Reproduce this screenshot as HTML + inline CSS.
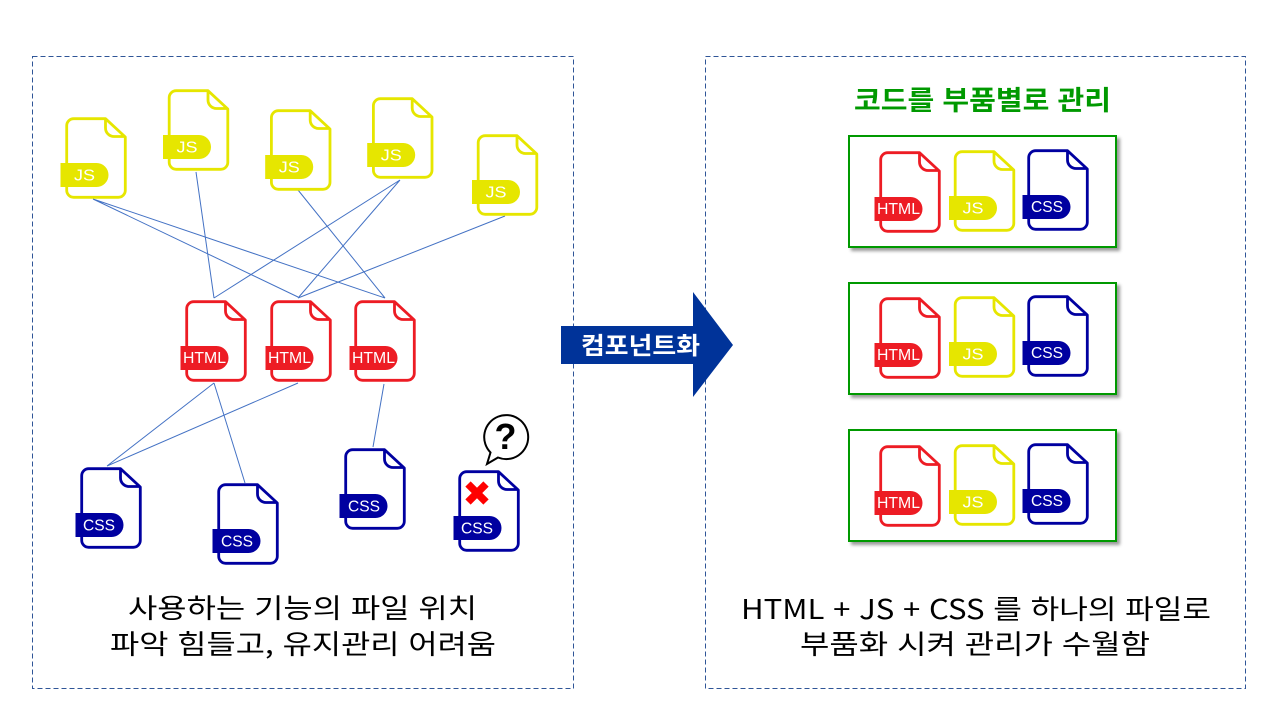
<!DOCTYPE html>
<html lang="ko"><head><meta charset="utf-8"><title>컴포넌트화</title>
<style>
html,body{margin:0;padding:0;background:#fff}
svg{display:block}
text{font-family:"Liberation Sans","Noto Sans CJK KR",sans-serif}
.k{font-family:"Noto Sans CJK KR","Liberation Sans",sans-serif;font-size:27px;fill:#000;text-anchor:middle}
.t{font-size:15.500px;fill:#fff;text-anchor:middle}
</style></head><body>
<svg width="1280" height="720" viewBox="0 0 1280 720" xmlns="http://www.w3.org/2000/svg">
<defs>
<g id="f">
<path d="M39.500,.7H7.700a7,7 0 0 0 -7,7V72.300a7,7 0 0 0 7,7H52.300a7,7 0 0 0 7,-7V19L39.500,.7ZM39.500,.7V10a8.500,8.500 0 0 0 8.500,8.500H59.300" fill="#fff" stroke="currentColor" stroke-width="2.800" stroke-linejoin="round"/>
<path d="M-5.500,45H30.500a12,12 0 0 1 0,24H-5.500Z" fill="currentColor"/>
</g>
<filter id="s" x="-5%" y="-5%" width="115%" height="120%"><feDropShadow dx="3" dy="3" stdDeviation="1.600" flood-color="#000" flood-opacity=".4"/></filter>
</defs>
<rect width="1280" height="720" fill="#fff"/>
<rect x="32.500" y="56.500" width="541" height="632" fill="none" stroke="#2f5597" stroke-width="1" stroke-dasharray="5 3"/>
<rect x="705.500" y="56.500" width="540" height="632" fill="none" stroke="#2f5597" stroke-width="1" stroke-dasharray="5 3"/>
<g stroke="#4472c4" stroke-width="1" fill="none">
<path d="M93,199L298,297M93,199L385,298M196,172L214,298M298,190L385,298M400,180L214,298M400,180L298,298M505,216L298,298M214,383L107,466M214,383L245,483M298,383L107,466M384,384L373,447"/>
</g>
<g color="#e6e600">
<g transform="translate(66,118)"><use href="#f"/><text class="t" x="18.500" y="62.500" textLength="21" lengthAdjust="spacingAndGlyphs">JS</text></g>
<g transform="translate(168.500,90)"><use href="#f"/><text class="t" x="18.500" y="62.500" textLength="21" lengthAdjust="spacingAndGlyphs">JS</text></g>
<g transform="translate(270.700,110)"><use href="#f"/><text class="t" x="18.500" y="62.500" textLength="21" lengthAdjust="spacingAndGlyphs">JS</text></g>
<g transform="translate(372.700,98)"><use href="#f"/><text class="t" x="18.500" y="62.500" textLength="21" lengthAdjust="spacingAndGlyphs">JS</text></g>
<g transform="translate(477.500,135)"><use href="#f"/><text class="t" x="18.500" y="62.500" textLength="21" lengthAdjust="spacingAndGlyphs">JS</text></g>
</g>
<g color="#ed1c24">
<g transform="translate(186,301)"><use href="#f"/><text class="t" x="18.500" y="62" textLength="43" lengthAdjust="spacingAndGlyphs">HTML</text></g>
<g transform="translate(271,301)"><use href="#f"/><text class="t" x="18.500" y="62" textLength="43" lengthAdjust="spacingAndGlyphs">HTML</text></g>
<g transform="translate(355,301)"><use href="#f"/><text class="t" x="18.500" y="62" textLength="43" lengthAdjust="spacingAndGlyphs">HTML</text></g>
</g>
<g color="#0000a0">
<g transform="translate(81,468)"><use href="#f"/><text class="t" x="18" y="62.500" textLength="32" lengthAdjust="spacingAndGlyphs">CSS</text></g>
<g transform="translate(218,484)"><use href="#f"/><text class="t" x="19" y="62.500" textLength="32" lengthAdjust="spacingAndGlyphs">CSS</text></g>
<g transform="translate(345,449)"><use href="#f"/><text class="t" x="19" y="62.500" textLength="32" lengthAdjust="spacingAndGlyphs">CSS</text></g>
<g transform="translate(459,471)"><use href="#f"/><text class="t" x="18" y="62.500" textLength="32" lengthAdjust="spacingAndGlyphs">CSS</text></g>
</g>
<path d="M468,484L486,502M486,484L468,502" stroke="#ff0000" stroke-width="7.500" fill="none"/>
<path d="M490.500,452.500A22,22 0 1 1 498,457.500L487,464Z" fill="#fff" stroke="#000" stroke-width="2" stroke-linejoin="miter"/>
<text x="505.500" y="449" font-size="36" font-weight="bold" text-anchor="middle" fill="#000">?</text>
<path d="M561,326H693V292L733,345L693,397V364H561Z" fill="#003399"/>
<text x="640.500" y="354" text-anchor="middle" fill="#fff" font-size="24" font-weight="bold" textLength="119" lengthAdjust="spacingAndGlyphs" style="font-family:'Noto Sans CJK KR',sans-serif">컴포넌트화</text>
<text x="982.500" y="110" text-anchor="middle" fill="#009900" font-size="27" font-weight="bold" textLength="257" lengthAdjust="spacingAndGlyphs" style="font-family:'Noto Sans CJK KR',sans-serif">코드를 부품별로 관리</text>
<g fill="#fff" stroke="#009900" stroke-width="2">
<rect x="849" y="136" width="267" height="111" filter="url(#s)"/>
<rect x="849" y="283" width="267" height="111" filter="url(#s)"/>
<rect x="849" y="430" width="267" height="111" filter="url(#s)"/>
</g>
<g color="#ed1c24">
<g transform="translate(880,152)"><use href="#f"/><text class="t" x="18.500" y="62" textLength="43" lengthAdjust="spacingAndGlyphs">HTML</text></g>
<g transform="translate(880,298)"><use href="#f"/><text class="t" x="18.500" y="62" textLength="43" lengthAdjust="spacingAndGlyphs">HTML</text></g>
<g transform="translate(880,446)"><use href="#f"/><text class="t" x="18.500" y="62" textLength="43" lengthAdjust="spacingAndGlyphs">HTML</text></g>
</g>
<g color="#e6e600">
<g transform="translate(954.500,151)"><use href="#f"/><text class="t" x="18.500" y="62.500" textLength="21" lengthAdjust="spacingAndGlyphs">JS</text></g>
<g transform="translate(954.500,297)"><use href="#f"/><text class="t" x="18.500" y="62.500" textLength="21" lengthAdjust="spacingAndGlyphs">JS</text></g>
<g transform="translate(954.500,445)"><use href="#f"/><text class="t" x="18.500" y="62.500" textLength="21" lengthAdjust="spacingAndGlyphs">JS</text></g>
</g>
<g color="#0000a0">
<g transform="translate(1028,150)"><use href="#f"/><text class="t" x="19" y="62" textLength="32" lengthAdjust="spacingAndGlyphs">CSS</text></g>
<g transform="translate(1028,296)"><use href="#f"/><text class="t" x="19" y="62" textLength="32" lengthAdjust="spacingAndGlyphs">CSS</text></g>
<g transform="translate(1028,444)"><use href="#f"/><text class="t" x="19" y="62" textLength="32" lengthAdjust="spacingAndGlyphs">CSS</text></g>
</g>
<text class="k" x="302.500" y="618" textLength="349" lengthAdjust="spacingAndGlyphs">사용하는 기능의 파일 위치</text>
<text class="k" x="303" y="654" textLength="386" lengthAdjust="spacingAndGlyphs">파악 힘들고, 유지관리 어려움</text>
<text class="k" x="976" y="619" textLength="470" lengthAdjust="spacingAndGlyphs">HTML + JS + CSS 를 하나의 파일로</text>
<text class="k" x="975" y="654" textLength="350" lengthAdjust="spacingAndGlyphs">부품화 시켜 관리가 수월함</text>
</svg>
</body></html>
